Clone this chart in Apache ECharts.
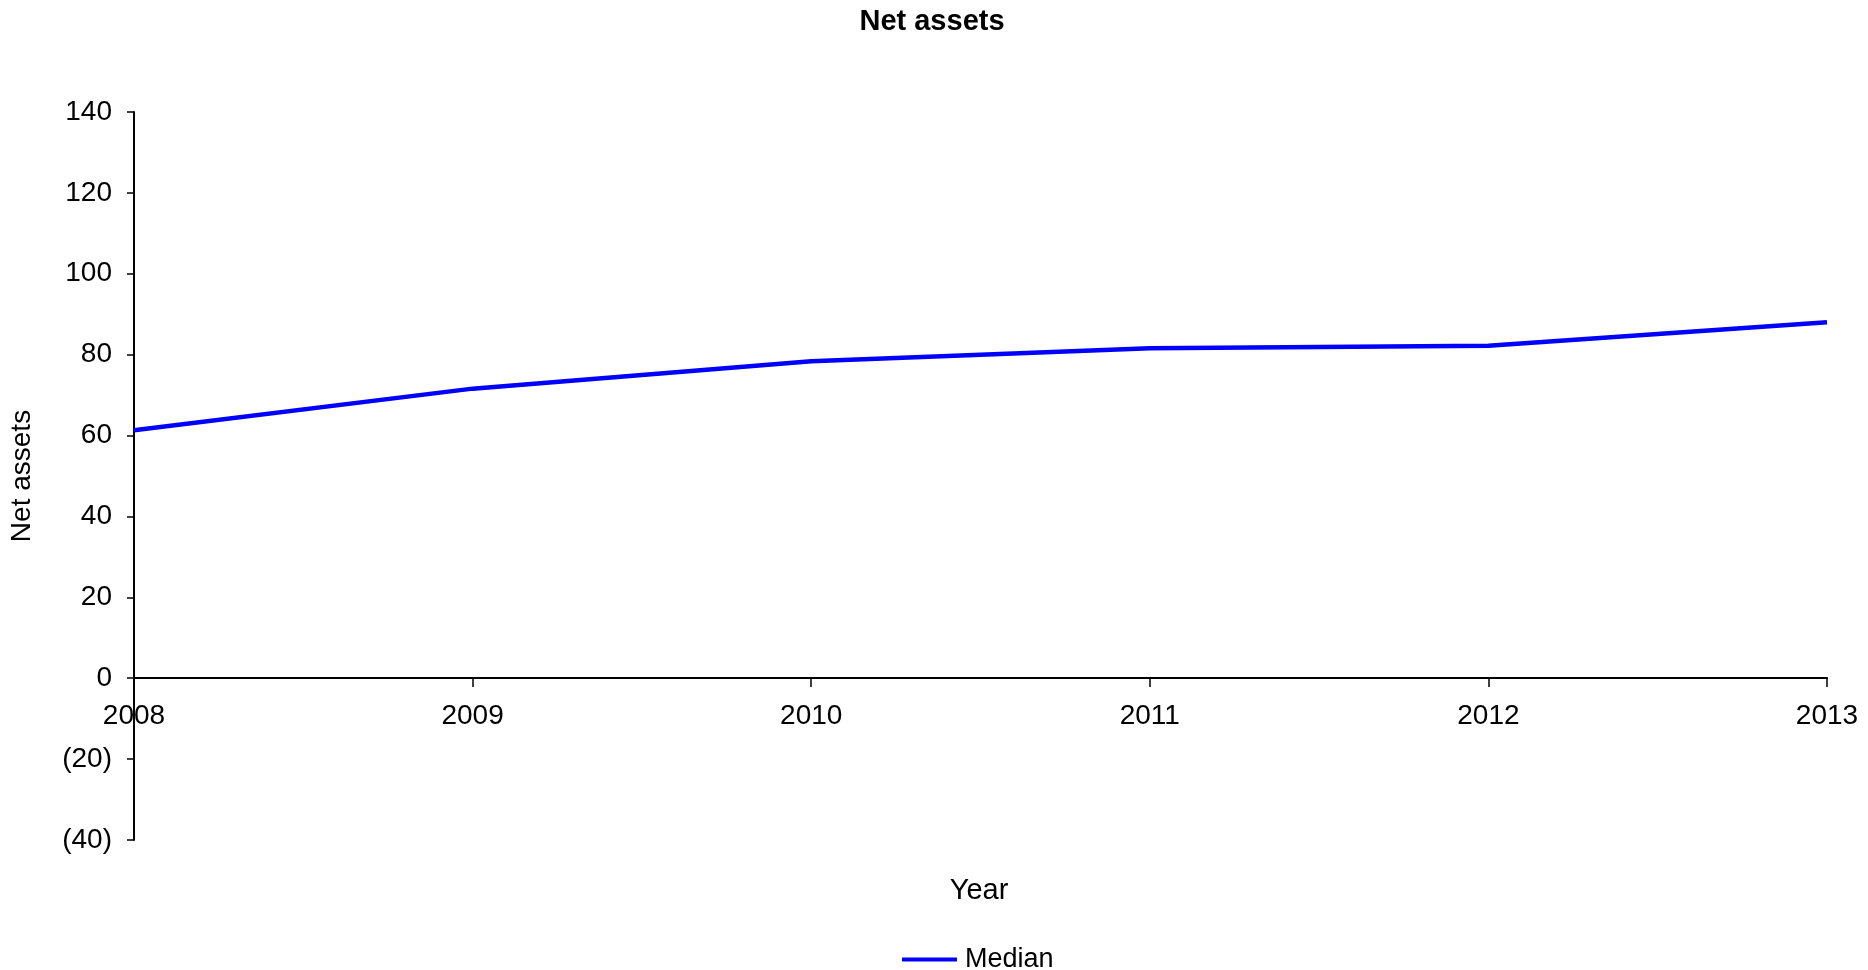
<!DOCTYPE html>
<html>
<head>
<meta charset="utf-8">
<style>
html,body{margin:0;padding:0;background:#fff;}
#chart{width:1868px;height:970px;}
</style>
<script src="https://cdn.jsdelivr.net/npm/echarts@6/dist/echarts.min.js"></script>
</head>
<body>
<div id="chart"></div>
<script>
var years = ['2008', '2009', '2010', '2011', '2012', '2013'];
var median = [61.3, 71.6, 78.4, 81.6, 82.2, 88.0];
var yTicks = { min: -40, max: 140, interval: 20 };

var FONT = '"Liberation Sans", Arial, sans-serif';
var chart = echarts.init(document.getElementById('chart'));
chart.setOption({
  animation: false,
  backgroundColor: '#ffffff',
  title: [
    { text: 'Net assets', left: 927, top: 2, textAlign: 'center',
      textStyle: { fontFamily: FONT, fontSize: 29, fontWeight: 'bold', color: '#000' } },
    { text: 'Year', left: 974, top: 871, textAlign: 'center',
      textStyle: { fontFamily: FONT, fontSize: 29, fontWeight: 'normal', color: '#000' } }
  ],
  legend: {
    data: ['Median'],
    left: 897, top: 941,
    icon: 'rect', itemWidth: 55, itemHeight: 4, itemGap: 10,
    textStyle: { fontFamily: FONT, fontSize: 27, color: '#000', padding: [0, 0, 0, 3] }
  },
  grid: { left: 132, right: 41, top: 112, bottom: 130, containLabel: false },
  xAxis: {
    type: 'category', data: years, boundaryGap: false,
    offset: -162,
    axisLine: { onZero: false, lineStyle: { color: '#000', width: 2 } },
    axisTick: { show: true, length: 9, inside: false, lineStyle: { color: '#000', width: 1.5 } },
    axisLabel: { fontFamily: FONT, fontSize: 28, color: '#000', margin: 24 },
    splitLine: { show: false }
  },
  yAxis: {
    type: 'value', min: yTicks.min, max: yTicks.max, interval: yTicks.interval,
    name: 'Net assets', nameLocation: 'middle', nameGap: 98, nameRotate: 90,
    nameTextStyle: { fontFamily: FONT, fontSize: 28, color: '#000' },
    axisLine: { show: true, onZero: false, lineStyle: { color: '#000', width: 2 } },
    axisTick: { show: true, length: 7, lineStyle: { color: '#000', width: 1.5 } },
    axisLabel: { fontFamily: FONT, fontSize: 28, color: '#000', margin: 22,
      formatter: function (v) { return v < 0 ? '(' + Math.abs(v) + ')' : String(v); } },
    splitLine: { show: false }
  },
  series: [{
    name: 'Median', type: 'line', data: median,
    symbol: 'none', smooth: false,
    lineStyle: { color: '#0000ff', width: 4.5 },
    itemStyle: { color: '#0000ff' }
  }]
});
</script>
</body>
</html>
